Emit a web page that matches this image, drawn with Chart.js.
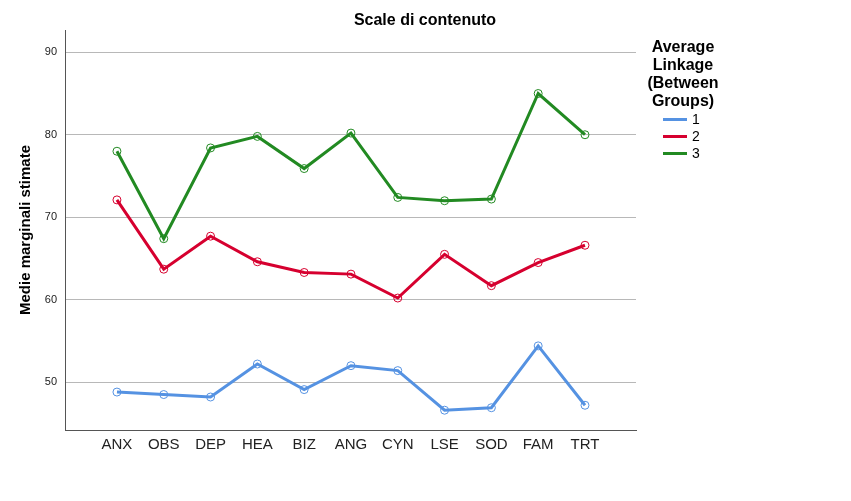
<!DOCTYPE html>
<html>
<head>
<meta charset="utf-8">
<script src="https://cdn.jsdelivr.net/npm/chart.js@4/dist/chart.umd.min.js"></script>
<style>
  body { margin: 0; background: #fff; font-family: Arial, "Liberation Sans", sans-serif; }
  #wrap { position: relative; width: 851px; height: 501px; }
  #legend { position: absolute; left: 636px; top: 38px; width: 94px; text-align: center; }
  #legend .ttl { font-weight: bold; font-size: 16px; line-height: 18px; color: #000; }
  #legend .itm { position: relative; height: 17px; font-size: 14px; color: #000; }
  #legend .sw { position: absolute; left: 27px; top: 7px; width: 24px; height: 3px; }
  #legend .lb { position: absolute; left: 56px; top: 0; line-height: 16px; }
</style>
</head>
<body>
<div id="wrap">
  <canvas id="chart" width="851" height="501"></canvas>
  <div id="legend">
    <div class="ttl">Average<br>Linkage<br>(Between<br>Groups)</div>
    <div id="items" style="margin-top:1px"></div>
  </div>
</div>
<script>
var categorie = ["ANX", "OBS", "DEP", "HEA", "BIZ", "ANG", "CYN", "LSE", "SOD", "FAM", "TRT"];
var gruppi = ["1", "2", "3"];
var gruppo1 = [48.8, 48.5, 48.2, 52.2, 49.1, 52.0, 51.4, 46.6, 46.9, 54.4, 47.2];
var gruppo2 = [72.1, 63.7, 67.7, 64.6, 63.3, 63.1, 60.2, 65.5, 61.7, 64.5, 66.6];
var gruppo3 = [78.0, 67.4, 78.4, 79.8, 75.9, 80.2, 72.4, 72.0, 72.2, 85.0, 80.0];
var yTicks = [50, 60, 70, 80, 90];
var colori = ["#5592e2", "#d6002f", "#228a22"];

function punti(valori) {
  return valori.map(function (v, i) { return { x: i, y: v }; });
}

var serie = [gruppo1, gruppo2, gruppo3];
var datasets = serie.map(function (s, k) {
  return {
    label: gruppi[k],
    data: punti(s),
    borderColor: colori[k],
    backgroundColor: "rgba(0,0,0,0)",
    borderWidth: 3,
    pointRadius: 4,
    pointBorderWidth: 1,
    pointBackgroundColor: "rgba(255,255,255,0)",
    pointBorderColor: colori[k],
    tension: 0,
  };
});

// legenda
var items = document.getElementById("items");
gruppi.forEach(function (g, k) {
  var d = document.createElement("div");
  d.className = "itm";
  d.innerHTML = '<span class="sw" style="background:' + colori[k] + '"></span><span class="lb">' + g + "</span>";
  items.appendChild(d);
});

var titolo = {
  id: "titolo",
  afterDraw: function (chart) {
    var ctx = chart.ctx;
    ctx.save();
    ctx.fillStyle = "#000";
    ctx.font = "bold 16px Arial, 'Liberation Sans'";
    ctx.textAlign = "center";
    ctx.textBaseline = "middle";
    ctx.fillText("Scale di contenuto", 425, 21);
    ctx.restore();
  },
};

var ctx = document.getElementById("chart").getContext("2d");
var myChart = new Chart(ctx, {
  type: "line",
  data: { datasets: datasets },
  plugins: [titolo],
  options: {
    responsive: false,
    animation: false,
    layout: { padding: { top: 30, right: 215, left: 0, bottom: 0 } },
    plugins: { legend: { display: false }, tooltip: { enabled: false } },
    scales: {
      x: {
        type: "linear",
        min: -1.11,
        max: 11.09,
        afterBuildTicks: function (scale) {
          scale.ticks = categorie.map(function (c, i) { return { value: i }; });
        },
        afterFit: function (scale) { scale.height = 71; },
        ticks: {
          autoSkip: false,
          maxRotation: 0,
          padding: 6,
          color: "#222",
          font: { family: "Arial, 'Liberation Sans'", size: 15 },
          callback: function (v) { return categorie[v]; },
        },
        grid: { display: false, drawTicks: false },
        border: { display: true, color: "#555", width: 1 },
      },
      y: {
        min: 44.2,
        max: 92.7,
        afterBuildTicks: function (scale) {
          scale.ticks = yTicks.map(function (v) { return { value: v }; });
        },
        afterFit: function (scale) { scale.width = 65; },
        title: {
          display: true,
          text: "Medie marginali stimate",
          color: "#000",
          font: { family: "Arial, 'Liberation Sans'", size: 15, weight: "bold" },
          padding: { top: 17, bottom: 0 },
        },
        ticks: {
          padding: 8,
          color: "#222",
          font: { family: "Arial, 'Liberation Sans'", size: 11 },
        },
        grid: { color: "#b8b8b8", lineWidth: 1, drawTicks: false },
        border: { display: true, color: "#555", width: 1 },
      },
    },
  },
});
</script>
</body>
</html>
